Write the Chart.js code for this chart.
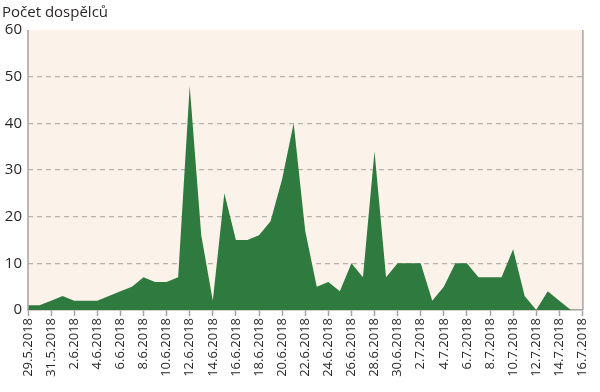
<!DOCTYPE html>
<html><head><meta charset="utf-8">
<script src="https://cdn.jsdelivr.net/npm/chart.js@4/dist/chart.umd.min.js"></script>
<style>html,body{margin:0;padding:0;background:#fff}#w{width:600px;height:392px}</style>
</head><body><div id="w"><canvas id="c"></canvas></div>
<script>
const title = "Počet dospělců";
const dates = ["29.5.2018","30.5.2018","31.5.2018","1.6.2018","2.6.2018","3.6.2018","4.6.2018","5.6.2018","6.6.2018","7.6.2018","8.6.2018","9.6.2018","10.6.2018","11.6.2018","12.6.2018","13.6.2018","14.6.2018","15.6.2018","16.6.2018","17.6.2018","18.6.2018","19.6.2018","20.6.2018","21.6.2018","22.6.2018","23.6.2018","24.6.2018","25.6.2018","26.6.2018","27.6.2018","28.6.2018","29.6.2018","30.6.2018","1.7.2018","2.7.2018","3.7.2018","4.7.2018","5.7.2018","6.7.2018","7.7.2018","8.7.2018","9.7.2018","10.7.2018","11.7.2018","12.7.2018","13.7.2018","14.7.2018","15.7.2018","16.7.2018"];
const adults = [1,1,2,3,2,2,2,3,4,5,7,6,6,7,48,16,2,25,15,15,16,19,28,40,17,5,6,4,10,7,34,7,10,10,10,2,5,10,10,7,7,7,13,3,0,4,2,0,0];
const yTicks = [0,10,20,30,40,50,60];

const axisColor = '#a8a29c';
const gridColor = '#bbb3ab';
const bgPlugin = {
  id:'bg',
  beforeDraw(chart){
    const {ctx, chartArea:a} = chart;
    ctx.save();
    ctx.fillStyle = '#fbf3e9';
    ctx.fillRect(a.left, a.top, a.right-a.left, a.bottom-a.top);
    ctx.restore();
  },
  afterDraw(chart){
    const {ctx, chartArea:a} = chart;
    ctx.save();
    ctx.strokeStyle = axisColor; ctx.lineWidth = 1.5; ctx.setLineDash([]);
    ctx.beginPath(); ctx.moveTo(a.left, a.top); ctx.lineTo(a.left, a.bottom); ctx.stroke();
    ctx.beginPath(); ctx.moveTo(a.right+0.5, a.top); ctx.lineTo(a.right+0.5, a.bottom); ctx.stroke();
    ctx.fillStyle = '#2a2627';
    ctx.font = '15px "Open Sans"';
    ctx.textBaseline = 'alphabetic';
    ctx.fillText(title, 2, 17);
    ctx.restore();
  }
};

new Chart(document.getElementById('c'), {
  type:'line',
  data:{labels:dates, datasets:[{data:adults, fill:'origin', backgroundColor:'#2e7a3f', borderWidth:0, borderColor:'#2e7a3f', pointRadius:0, tension:0}]},
  options:{
    responsive:true, maintainAspectRatio:false, animation:false,
    layout:{padding:{top:30,right:13,left:0,bottom:0}},
    plugins:{legend:{display:false}, tooltip:{enabled:false}},
    scales:{
      x:{
        offset:false,
        grid:{drawOnChartArea:false, tickLength:6, tickColor:(c)=> (c.index%2===0 ? axisColor : 'rgba(0,0,0,0)'), tickWidth:1.5},
        border:{color:axisColor, width:1.5},
        ticks:{autoSkip:false, maxRotation:90, minRotation:90, padding:2, color:'#2a2627', font:{family:'"Open Sans"', size:13},
          callback:function(v,i){return i%2===0 ? dates[i] : '';}},
        afterFit(s){ s.height = 82; }
      },
      y:{
        min:0, max:60,
        afterBuildTicks(s){ s.ticks = yTicks.map(v=>({value:v})); },
        grid:{drawTicks:false, color:(c)=> (c.tick && (c.tick.value===0||c.tick.value===60)) ? 'rgba(0,0,0,0)' : gridColor, lineWidth:1.3},
        border:{display:false, dash:[5,4]},
        ticks:{padding:6, color:'#2a2627', font:{family:'"Open Sans"', size:15}},
        afterFit(s){ s.width = 28; }
      }
    }
  },
  plugins:[bgPlugin]
});
</script>
</body></html>
